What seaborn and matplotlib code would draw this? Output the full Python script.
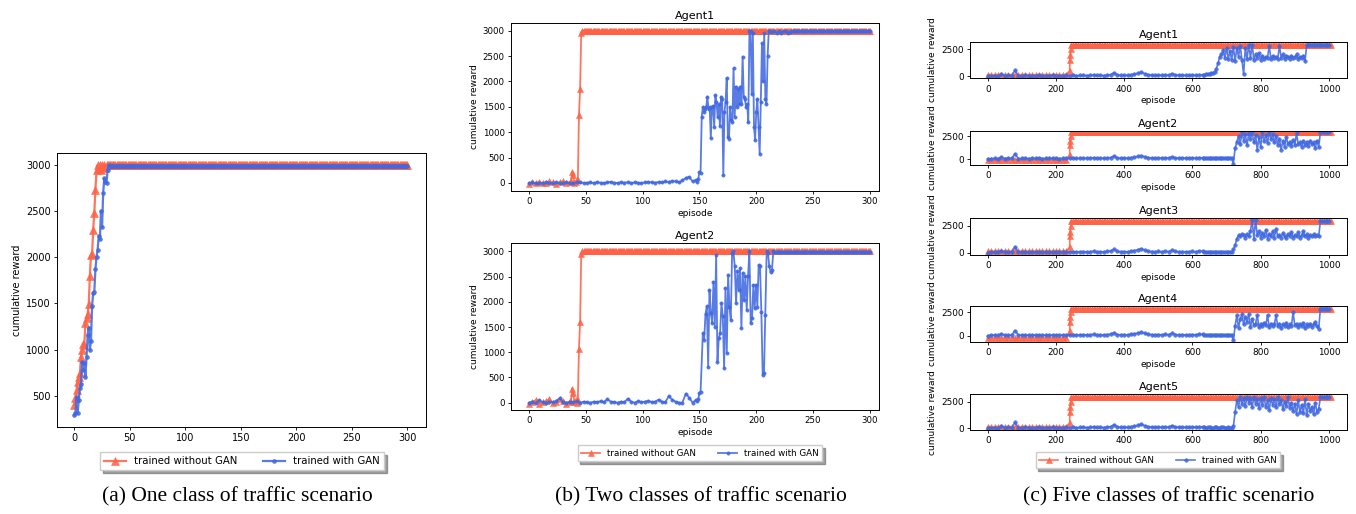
import numpy as np
import seaborn as sns
import matplotlib.pyplot as plt

RED = "tomato"
BLUE = "royalblue"
LABELS = ["trained without GAN", "trained with GAN"]

# ---- (a) one class: values per episode, then the 3000 cap
a_red_rise = [400, 470, 560, 650, 700, 740, 915, 1000, 1060, 1050, 1285, 1340, 1390,
              1490, 1800, 2025, 2040, 2295, 2476, 2730, 2945, 3000, 2960, 3000, 2950,
              3000, 2980, 3000, 2970, 3000]
a_blue_rise = [290, 310, 480, 310, 450, 580, 625, 860, 780, 850, 705, 920, 1160, 1237,
               995, 1096, 1475, 1609, 1627, 1869, 2006, 2079, 2234, 2194, 2501, 2324,
               2700, 2855, 2820, 2808, 2950, 3000]
cap_red = 3000
cap_blue = 2990

# ---- (b) two classes
b1_red_early = [-20, 10, -10, 20, 0, -10, 30, 10, -20, 20, 30, 0, 20]  # ep 0..36, every 3
b1_red_jump = [30, 220, 150, 0, 20, 60, 50, 1330, 1850, 2950]         # ep 37..46
b2_red_early = [-30, 20, 50, -20, 10, 30, 70, -10, 20, 80, 40, -20, 30]
b2_red_jump = [20, 280, 200, 10, 50, 0, 50, 1070, 1600, 2950]

b1_blue_early = [0, 10, -10, 5, 0, 10, 5, -5, 10, 0, 5, 10, 0, -5, 10, 20, 0, 5, 10, 0,
                 15, 5, 0, 10, 20, 5, 0, 10, 5, 15, 0, 10, 5, 0, 10, 20, 10, 5, 20, 10,
                 30, 20, 40, 30, 10, 50, 100, 120, 30, 60]               # ep 0..147, every 3
b1_blue_noisy = [20, 80, 220, 200, 1300, 1500, 1400, 1450, 1500, 1700, 1450, 1500, 880,
                 1500, 1520, 1100, 1730, 1600, 1300, 1550, 1130, 1700, 1650, 150, 1400,
                 1600, 2070, 910, 870, 1500, 1250, 1200, 2260, 1300, 1900, 1500, 1850,
                 1550, 1900, 1550, 2490, 1700, 1650, 1500, 1550, 1200, 3000, 3000, 1750,
                 2950, 1100, 850, 1400, 1650, 1100, 570, 1600, 2750, 2000, 2950, 1650,
                 1550, 2500, 3000]                                       # ep 148..211
b1_blue_settle = [3000, 2980, 2990, 2950, 2990, 2960, 3000, 2990, 2950, 2980]  # ep 212..230

b2_blue_early = [0, 20, -10, 50, 10, 0, 20, 10, 30, 90, 10, 0, 20, 10, 30, 0, 20, 10, 0,
                 20, 10, 30, 10, 70, 20, 10, 0, 20, 10, 80, 20, 0, 30, 10, 20, 40, 10,
                 20, 60, 20, 10, 130, 60, 20, 0, 0, 180, 100, 0, 60]
b2_blue_start = [40, 70, 200, 220]                                       # ep 148..151
b2_blue_noisy = [1380, 1250, 1760, 1910, 715, 2240, 1775, 1580, 2400, 1510, 2930, 815,
                 1280, 1380, 1975, 1710, 683, 2273, 981, 2538, 1907, 1643, 2967, 3000,
                 2703, 1975, 2604, 2239, 2670, 1477, 2571, 2040, 2505, 1842, 2505, 3000,
                 1577, 1676, 2338, 1875, 2338, 1907, 2736, 2703, 1808, 549, 582, 1743,
                 3000, 2967, 2703, 2586, 2637, 3000]                     # ep 153..215

# ---- (c) five classes
c_red_early = [150, -100, 150, -250, 150]   # level before episode 240, per agent
c_red_jump = [490, 1500, 1950, 2500, 2900]
c_cap = 2900

c_blue_base = [0, 40, 60, 30, 200, 50, 80, 60, 550, 40,
               60, 80, 50, 70, 60, 90, 50, 70, 60, 80,
               60, 50, 70, 80, 60, 90, 60, 80, 110, 70,
               90, 150, 80, 100, 70, 120, 150, 330, 120, 90,
               110, 80, 150, 200, 280, 380, 250, 150, 110, 90,
               120, 80, 150, 100, 250, 120, 90, 110, 80, 100,
               120, 90, 150, 130]                                        # ep 0..630, every 10
c_blue_quiet = [90, 60, 80, 100, 70, 60, 90, 80, 70, 60, 80, 90, 70, 60, 80, 70, 60]  # ep 635..715

agent1_tail = [150, 200, 180, 250, 300, 280, 400, 700, 1200, 1800, 2000, 2400, 1700,
               2600, 1600, 2300, 1500, 2700, 1400, 2600, 1800, 2800, 1500, 200, 2600,
               1600, 2900, 1700, 2900, 1500, 2000, 1700, 2100, 1500, 1900, 1600, 1800,
               1700, 2800, 1600, 1900, 1700, 1800, 1600, 2800, 1700, 2000, 1600, 1900,
               1800, 1600, 1900, 1700, 1800, 2000, 1600, 1800, 1700, 1900, 1400]  # ep 635..930
agent2_tail = [-500, 1200, 1800, 2500, 1600, 2900, 2000, 2700, 1500, 2800, 2200, 2900,
               1800, 2600, 1000, 2400, 1300, 2900, 2000, 2600, 1700, 2900, 2200, 2700,
               1800, 2500, 1500, 2200, 1000, 2000, 1300, 2400, 1600, 1900, 1400, 2100,
               1500, 2800, 1600, 1800, 1300, 2000, 1500, 1900, 1400, 2000, 1600, 1800,
               1200, 2000, 1300]                                         # ep 720..970
agent3_tail = [300, 700, 1300, 1600, 1500, 1700, 1600, 1400, 1700, 1500, 2000, 3000,
               1300, 3000, 1600, 2000, 1400, 1800, 1500, 2100, 1300, 1700, 1500, 2000,
               1400, 2200, 1500, 1600, 1400, 1800, 1500, 1400, 1700, 1500, 1900, 1400,
               1600, 1500, 1900, 1400, 1600, 2000, 1500, 1700, 1400, 1600, 1500, 1700,
               1500, 1600, 1500]
agent4_tail = [-500, 1000, 2200, 800, 1800, 2300, 1200, 2000, 1500, 2300, 900, 1800,
               1100, 1300, 2200, 900, 1300, 1000, 1400, 1100, 2200, 900, 1300, 1000,
               1200, 2200, 1000, 1300, 800, 1200, 1000, 1400, 900, 1200, 1000, 2500,
               1100, 1300, 900, 1200, 1000, 1400, 800, 1200, 1000, 1300, 900, 1200,
               1500, 1000, 700]
agent5_tail = [200, 1500, 2600, 2000, 2900, 2300, 2800, 2100, 2900, 2400, 2800, 2000,
               2900, 2300, 2700, 1900, 2800, 2200, 2900, 2000, 2600, 1700, 2800, 2200,
               2700, 2000, 2900, 2300, 2600, 1800, 2500, 2100, 2900, 1900, 2400, 1600,
               2300, 1300, 2600, 1500, 2200, 1400, 2700, 1200, 2300, 1600, 2000, 1300,
               2400, 1500, 1800]
c_blue_end = 2900


def seg(start, stop, values):
    return np.linspace(start, stop, len(values)), np.asarray(values, dtype=float)


def flat(start, stop, step, level):
    n = int(round((stop - start) / step)) + 1
    return seg(start, stop, [level] * n)


def join(*parts):
    return (np.concatenate([p[0] for p in parts]),
            np.concatenate([p[1] for p in parts]))


W, H = 1356, 514
fig = plt.figure(figsize=(W / 100, H / 100), dpi=100)


def px_axes(left, top, right, bottom):
    return fig.add_axes([left / W, 1 - bottom / H, (right - left) / W, (bottom - top) / H])


def draw_pair(ax, red, blue, ms_red, ms_blue, lw, fs):
    for (x, y), color, marker, ms, label in [(red, RED, "^", ms_red, LABELS[0]),
                                             (blue, BLUE, "o", ms_blue, LABELS[1])]:
        sns.lineplot(x=x, y=y, ax=ax, color=color, marker=marker, markersize=ms,
                     markeredgecolor=color, markeredgewidth=0.4, linewidth=lw,
                     alpha=0.88, sort=False, estimator=None, label=label, legend=False)
    if ax.get_legend() is not None:
        ax.get_legend().remove()
    ax.tick_params(labelsize=fs, length=2.5, width=0.6, pad=2)
    for s in ax.spines.values():
        s.set_linewidth(0.7)


def add_legend(ax, cx, top, fs):
    h, l = ax.get_legend_handles_labels()
    fig.legend(h[:2], l[:2], loc="upper center", bbox_to_anchor=(cx / W, 1 - top / H),
               ncol=2, fontsize=fs, shadow=True, fancybox=False, framealpha=1,
               borderpad=0.4, columnspacing=2.5, handlelength=2.2)


# ---- panel (a)
ax_a = px_axes(57, 153, 426, 427)
red_a = join(seg(0, 29, a_red_rise), flat(30, 300, 1, cap_red))
blue_a = join(seg(0, 31, a_blue_rise), flat(32, 300, 1, cap_blue))
draw_pair(ax_a, red_a, blue_a, 5.5, 2.8, 1.6, 7)
ax_a.set_xlim(-15.6, 316.8)
ax_a.set_ylim(160, 3130)
ax_a.set_yticks(range(500, 3001, 500))
ax_a.set_xticks(range(0, 301, 50))
ax_a.set_ylabel("cumulative reward", fontsize=7, labelpad=3)
add_legend(ax_a, 242, 447, 7.3)

# ---- panel (b)
b_specs = [
    ("Agent1", (511, 23, 879, 191), (-158, 3152),
     join(seg(0, 36, b1_red_early), seg(37, 46, b1_red_jump), flat(47, 300, 1, cap_red)),
     join(seg(0, 147, b1_blue_early), seg(148, 211, b1_blue_noisy),
          seg(212, 230, b1_blue_settle), flat(231, 300, 1, cap_blue))),
    ("Agent2", (511, 243, 879, 410), (-145, 3167),
     join(seg(0, 36, b2_red_early), seg(37, 46, b2_red_jump), flat(47, 300, 1, cap_red)),
     join(seg(0, 147, b2_blue_early), seg(148, 151, b2_blue_start),
          seg(153, 215, b2_blue_noisy), flat(216, 300, 1, cap_blue))),
]
for title, box, ylim, red, blue in b_specs:
    ax = px_axes(*box)
    draw_pair(ax, red, blue, 5, 2.4, 1.3, 6.2)
    ax.set_xlim(-15.8, 308)
    ax.set_ylim(*ylim)
    ax.set_yticks(range(0, 3001, 500))
    ax.set_xticks(range(0, 301, 50))
    ax.set_title(title, fontsize=8, pad=3)
    ax.set_xlabel("episode", fontsize=6.5, labelpad=2)
    ax.set_ylabel("cumulative reward", fontsize=6.5, labelpad=3)
add_legend(ax, 700, 441, 6.3)

# ---- panel (c)
c_boxes = [(41.7, 78.3), (130.7, 165.0), (218.3, 255.0), (306.0, 341.7), (394.3, 430.0)]
c_ylims = [(-180, 3170), (-650, 3080), (-210, 3175), (-645, 3175), (-160, 3180)]
c_tails = [agent1_tail, agent2_tail, agent3_tail, agent4_tail, agent5_tail]
for i, ((top, bottom), ylim, tail) in enumerate(zip(c_boxes, c_ylims, c_tails)):
    ax = px_axes(970, top, 1347, bottom)
    red = join(flat(0, 230, 10, c_red_early[i]), seg(240, 244, c_red_jump),
               flat(250, 1005, 5, c_cap))
    if i == 0:
        blue = join(seg(0, 630, c_blue_base), seg(635, 930, tail), flat(935, 1000, 5, c_blue_end))
    else:
        blue = join(seg(0, 630, c_blue_base), seg(635, 715, c_blue_quiet),
                    seg(720, 970, tail), flat(975, 1000, 5, c_blue_end))
    draw_pair(ax, red, blue, 4, 2.6, 1.2, 6.4)
    ax.set_xlim(-52, 1053)
    ax.set_ylim(*ylim)
    ax.set_yticks([0, 2500])
    ax.set_xticks(range(0, 1001, 200))
    ax.set_title(f"Agent{i + 1}", fontsize=8, pad=3)
    ax.set_ylabel("cumulative reward", fontsize=6.5, labelpad=3)
    if i < 4:
        ax.set_xlabel("episode", fontsize=6.5, labelpad=2)
add_legend(ax, 1158, 448, 6.3)

# ---- sub-captions
for cx, text in [(237, "(a) One class of traffic scenario"),
                 (701, "(b) Two classes of traffic scenario"),
                 (1169, "(c) Five classes of traffic scenario")]:
    fig.text(cx / W, 1 - 497 / H, text, ha="center", va="center", fontsize=15.5,
             family="Liberation Serif")

fig.savefig("out.png", dpi=100)
